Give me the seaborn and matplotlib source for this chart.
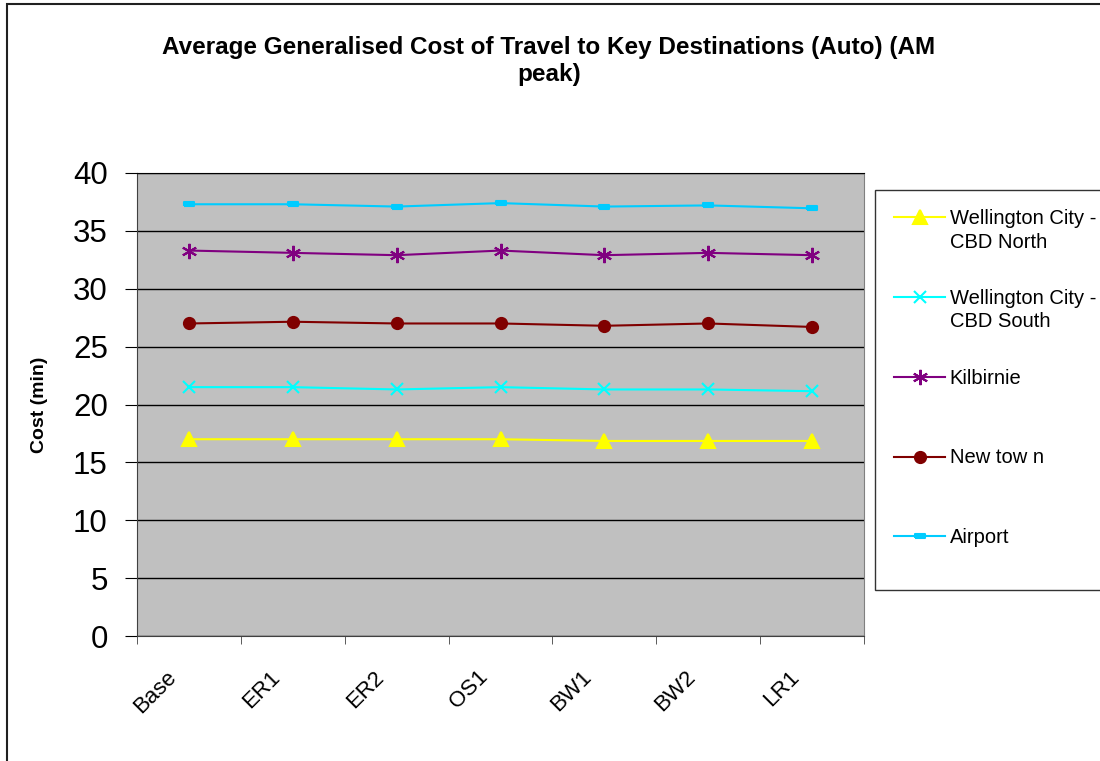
import pandas as pd
import numpy as np
import seaborn as sns
import matplotlib.pyplot as plt
import matplotlib.transforms as mtransforms
from matplotlib.patches import Rectangle
from matplotlib.ticker import FixedLocator

plt.rcParams['font.family'] = ['Liberation Sans', 'DejaVu Sans']

# data
scenarios = ['Base', 'ER1', 'ER2', 'OS1', 'BW1', 'BW2', 'LR1']
cbd_north = [17.0, 17.0, 17.0, 17.0, 16.85, 16.85, 16.85]
cbd_south = [21.5, 21.5, 21.3, 21.5, 21.3, 21.3, 21.15]
kilbirnie = [33.3, 33.1, 32.9, 33.3, 32.9, 33.1, 32.9]
newtown = [27.0, 27.15, 27.0, 27.0, 26.8, 27.0, 26.7]
airport = [37.3, 37.3, 37.1, 37.4, 37.1, 37.2, 36.95]

series = ['Wellington City - CBD North', 'Wellington City - CBD South', 'Kilbirnie', 'New tow n', 'Airport']
legend_labels = ['Wellington City -\nCBD North', 'Wellington City -\nCBD South', 'Kilbirnie\n ', 'New tow n\n ', 'Airport\n ']
colors = ['#FFFF00', '#00FFFF', '#800080', '#800000', '#00CCFF']
bar_marker = [(-1, -0.35), (1, -0.35), (1, 0.35), (-1, 0.35), (-1, -0.35)]
markers = ['^', 'x', (6, 2, 0), 'o', bar_marker]
msizes = [10, 9, 11, 8, 7]

rows = []
for name, vals in zip(series, [cbd_north, cbd_south, kilbirnie, newtown, airport]):
    for sc, v in zip(scenarios, vals):
        rows.append({'scenario': sc, 'cost': v, 'dest': name})
df = pd.DataFrame(rows)

fig = plt.figure(figsize=(11, 7.61), dpi=100)
ax = fig.add_axes([137/1100, 1 - 636/761, 727/1100, 463/761])
ax.set_facecolor('#C0C0C0')

for name, col, mk, ms in zip(series, colors, markers, msizes):
    sns.lineplot(data=df[df['dest'] == name], x='scenario', y='cost',
                 color=col, marker=mk, markersize=ms, linewidth=1.5,
                 markeredgecolor=col, markerfacecolor=col, markeredgewidth=1.5,
                 ax=ax, zorder=3, legend=False)

ax.set_xlim(-0.5, 6.5)
ax.set_ylim(0, 40)
ax.set_yticks(np.arange(0, 41, 5))
ax.tick_params(axis='y', labelsize=22.5, length=9, direction='out', pad=12, color='black')
ax.set_xticks(range(len(scenarios)))
ax.set_xticklabels(scenarios, rotation=45, ha='right', va='top', rotation_mode='anchor', fontsize=16)
ax.tick_params(axis='x', which='major', length=0, pad=22)
shift = mtransforms.ScaledTranslation(-0.23, 0, fig.dpi_scale_trans)
for lbl in ax.get_xticklabels():
    lbl.set_transform(lbl.get_transform() + shift)
ax.xaxis.set_minor_locator(FixedLocator(np.arange(-0.5, 7, 1)))
ax.tick_params(axis='x', which='minor', length=6, direction='out', color='#404040')
ax.yaxis.grid(True, color='black', linewidth=1)
ax.set_axisbelow(True)

for s in ['left', 'bottom']:
    ax.spines[s].set_color('#404040')
ax.spines['top'].set_color('black')
ax.spines['right'].set_color('#808080')

ax.set_xlabel('')
ax.set_ylabel('Cost (min)', fontsize=14, fontweight='bold')
ax.yaxis.set_label_coords((48 - 137) / 727, 0.5)

fig.text(549/1100, 1 - 36/761,
         'Average Generalised Cost of Travel to Key Destinations (Auto) (AM\npeak)',
         ha='center', va='top', fontsize=17.5, fontweight='bold', linespacing=1.25)

leg = ax.legend(ax.lines[:5], legend_labels, loc='upper left',
                bbox_to_anchor=(875/1100, 1 - 190/761, 1.0, 0), bbox_transform=fig.transFigure,
                mode='expand', borderaxespad=0, fancybox=False, frameon=True,
                edgecolor='black', fontsize=14.5, labelspacing=1.85, handlelength=2.55,
                handleheight=1.1, handletextpad=0.2, borderpad=0.95)
leg.get_frame().set_linewidth(1)
for t in leg.get_texts():
    t.set_linespacing(1.3)
# put each handle level with the first line of its label
try:
    for col in leg._legend_handle_box.get_children():
        for item in col.get_children():
            item.align = 'top'
except AttributeError:
    pass

# outer chart border
fig.patches.append(Rectangle((7/1100, -0.05), 1.2, 1.05 - 4/761, transform=fig.transFigure,
                             fill=False, edgecolor='#202020', linewidth=1.5, clip_on=False))

plt.savefig('out.png', dpi=100)
